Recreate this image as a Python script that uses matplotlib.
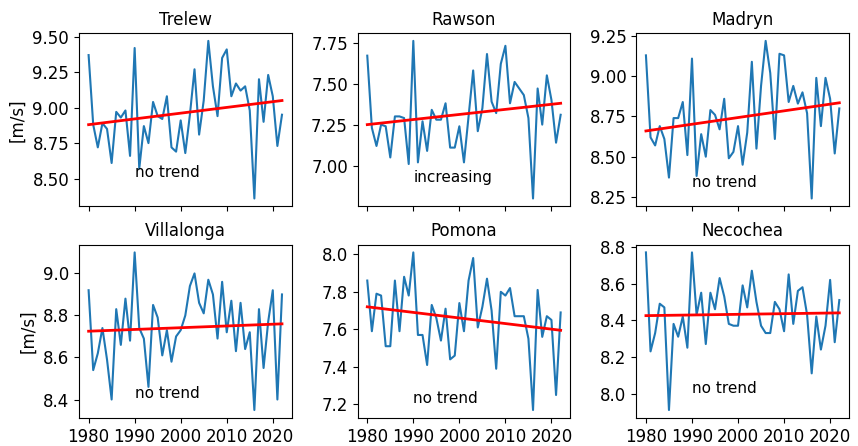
import numpy as np
import matplotlib
matplotlib.use("Agg")
import matplotlib.pyplot as plt

years = list(range(1980, 2023))

stations = ["Trelew", "Rawson", "Madryn", "Villalonga", "Pomona", "Necochea"]

trelew = [9.37, 8.88, 8.72, 8.89, 8.85, 8.61, 8.97, 8.93, 8.98, 8.66,
          9.42, 8.57, 8.87, 8.75, 9.04, 8.94, 8.92, 9.08, 8.72, 8.69,
          8.91, 8.68, 8.95, 9.27, 8.81, 9.05, 9.47, 9.15, 8.94, 9.35,
          9.41, 9.08, 9.17, 9.12, 9.15, 8.98, 8.36, 9.20, 8.90, 9.23,
          9.08, 8.73, 8.95]
rawson = [7.67, 7.23, 7.12, 7.25, 7.24, 7.05, 7.30, 7.30, 7.29, 7.01,
          7.76, 7.02, 7.27, 7.09, 7.34, 7.28, 7.28, 7.38, 7.11, 7.11,
          7.24, 7.02, 7.30, 7.58, 7.21, 7.35, 7.68, 7.39, 7.32, 7.62,
          7.73, 7.38, 7.51, 7.47, 7.43, 7.29, 6.80, 7.47, 7.25, 7.55,
          7.40, 7.14, 7.31]
madryn = [9.13, 8.62, 8.57, 8.69, 8.61, 8.37, 8.74, 8.74, 8.84, 8.51,
          9.11, 8.38, 8.64, 8.50, 8.79, 8.76, 8.67, 8.86, 8.49, 8.53,
          8.69, 8.45, 8.65, 9.09, 8.55, 8.94, 9.22, 9.02, 8.61, 9.14,
          9.13, 8.84, 8.94, 8.83, 8.90, 8.77, 8.24, 8.99, 8.69, 8.99,
          8.86, 8.52, 8.80]
villalonga = [8.92, 8.54, 8.62, 8.74, 8.59, 8.40, 8.83, 8.66, 8.88, 8.68,
              9.10, 8.74, 8.69, 8.46, 8.85, 8.79, 8.61, 8.73, 8.58, 8.70,
              8.73, 8.80, 8.94, 9.00, 8.86, 8.81, 8.97, 8.90, 8.69, 8.96,
              8.72, 8.87, 8.63, 8.86, 8.64, 8.72, 8.35, 8.83, 8.55, 8.77,
              8.92, 8.40, 8.90]
pomona = [7.86, 7.59, 7.79, 7.78, 7.51, 7.51, 7.86, 7.59, 7.88, 7.78,
          8.01, 7.57, 7.57, 7.41, 7.73, 7.66, 7.54, 7.71, 7.44, 7.46,
          7.74, 7.59, 7.86, 7.98, 7.61, 7.72, 7.87, 7.70, 7.39, 7.80,
          7.78, 7.82, 7.67, 7.67, 7.67, 7.55, 7.17, 7.81, 7.56, 7.67,
          7.65, 7.25, 7.69]
necochea = [8.77, 8.23, 8.33, 8.49, 8.47, 7.91, 8.38, 8.31, 8.42, 8.25,
            8.77, 8.43, 8.55, 8.27, 8.55, 8.46, 8.63, 8.53, 8.38, 8.37,
            8.37, 8.59, 8.47, 8.67, 8.50, 8.37, 8.33, 8.33, 8.50, 8.46,
            8.34, 8.65, 8.38, 8.56, 8.58, 8.43, 8.11, 8.42, 8.24, 8.37,
            8.62, 8.28, 8.51]

series = [trelew, rawson, madryn, villalonga, pomona, necochea]

# trend line values at first and last year
trend_start = [8.88, 7.25, 8.66, 8.725, 7.72, 8.425]
trend_end = [9.05, 7.38, 8.835, 8.76, 7.595, 8.44]

labels = ["no trend", "increasing", "no trend", "no trend", "no trend", "no trend"]
label_y = [8.54, 6.93, 8.34, 8.43, 7.23, 8.03]

ytick_sets = [
    [8.50, 8.75, 9.00, 9.25, 9.50],
    [7.00, 7.25, 7.50, 7.75],
    [8.25, 8.50, 8.75, 9.00, 9.25],
    [8.4, 8.6, 8.8, 9.0],
    [7.2, 7.4, 7.6, 7.8, 8.0],
    [8.0, 8.2, 8.4, 8.6, 8.8],
]
ytick_fmt = ["{:.2f}", "{:.2f}", "{:.2f}", "{:.1f}", "{:.1f}", "{:.1f}"]

fig, axes = plt.subplots(2, 3, figsize=(8.58, 4.46), dpi=100, sharex=True)
fig.subplots_adjust(left=0.092, right=0.9895, top=0.926, bottom=0.063,
                    wspace=0.31, hspace=0.22)

for i, ax in enumerate(axes.flat):
    ax.plot(years, series[i], color="#1f77b4", lw=1.5)
    ax.plot([years[0], years[-1]], [trend_start[i], trend_end[i]],
            color="red", lw=2)
    ax.set_title(stations[i], fontsize=12)
    ax.text(1990, label_y[i], labels[i], fontsize=11, ha="left", va="center")
    ax.set_yticks(ytick_sets[i])
    ax.set_yticklabels([ytick_fmt[i].format(v) for v in ytick_sets[i]])
    ax.tick_params(labelsize=12)
    ax.set_xticks([1980, 1990, 2000, 2010, 2020])
    if i % 3 == 0:
        ax.set_ylabel("[m/s]", fontsize=12)

fig.savefig("out.png", dpi=100)
